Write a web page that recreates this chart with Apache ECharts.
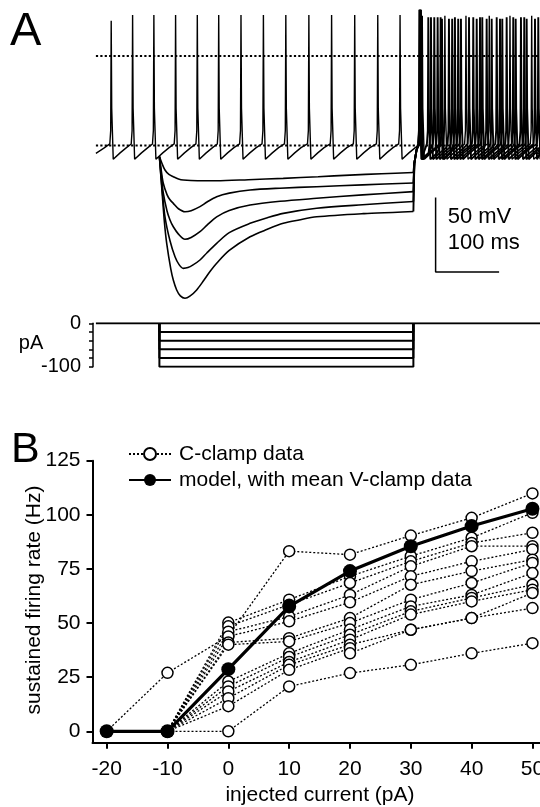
<!DOCTYPE html>
<html><head><meta charset="utf-8">
<script src="https://cdn.jsdelivr.net/npm/echarts@6/dist/echarts.min.js"></script>
<style>html,body{margin:0;padding:0;background:#fff}#c{width:540px;height:807px}</style>
</head><body><div id="c"></div>
<script>
// ---------------- Panel B data ----------------
const currents = [-20, -10, 0, 10, 20, 30, 40, 50];           // injected current (pA)
const xTickLabels = [-20, -10, 0, 10, 20, 30, 40, 50];
const yTickLabels = [0, 25, 50, 75, 100, 125];
const modelRate = [0, 0, 28.7, 57.7, 74, 85.5, 94.8, 102.8];   // model, with mean V-clamp data
// C-clamp cells (Hz) at currents -20..50 (null = not recorded)
const cell01 = [null, 0, 0, 20.7, 26.9, 30.7, 36, 40.7];
const cell02 = [0, 27, 44, 83.2, 81.6, 90.4, 98.6, 109.9];
const cell03 = [null, 0, 50.2, 60.8, 71.6, 80.9, 89.4, 100.9];
const cell04 = [null, 0, 48.5, 58.5, 68.5, 78.5, 87, 91.7];
const cell05 = [null, 0, 46, 53, 63, 76.2, 85.5, 85.5];
const cell06 = [null, 0, 43.8, 50.8, 59.6, 71.6, 78.5, 84];
const cell07 = [null, 0, 41, 43, 52.3, 67.7, 74, 79.3];
const cell08 = [null, 0, 40, 41.5, 50, 60.8, 68.5, 77.8];
const cell09 = [null, 0, 23, 36, 47, 57.7, 63, 73.1];
const cell10 = [null, 0, 20.7, 34.3, 44.6, 55.4, 61.6, 67.7];
const cell11 = [null, 0, 18.4, 32, 42.3, 53.9, 60, 65.4];
const cell12 = [null, 0, 15.3, 30.7, 40, 46.9, 52.3, 56.9];
const cell13 = [null, 0, 11.6, 28.4, 38.4, null, null, null];
const cell14 = [null, null, null, null, 36, 46.9, 52.3, 63.9];

// ---------------- Panel A data ----------------
const sweepEndMs = 700;
const stepOnMs = 100, stepOffMs = 500;
const stepAmps = [-20, -40, -60, -80, -100];                 // pA
const refLinesMv = [0, -60];                                 // dotted reference lines
// spike waveform (ms relative to peak, mV)
const spikeRise = [[-2.2, -59], [-0.8, -50]];
const spikeFall = [[0.8, -35], [3.2, -69.3], [6, -68.5], [14, -65], [24, -61.5]];
// 0 pA trace: spike times (ms) and peaks (mV)
const spikes0 = [24.1, 57.8, 91.3, 125.5, 159.7, 193.4, 228.5, 263.8, 299.1, 335.4, 371.2, 407.6, 443.9, 479, 514, 549.6, 582.8, 619.5, 652.1, 686.3];
const peaks0 = [23.7, 27.5, 27.5, 27.5, 27.5, 27.5, 27.5, 27.5, 27.5, 27.5, 27.5, 27.5, 27.5, 27.5, 27, 27, 27, 27, 27, 27];
// hyperpolarised responses during the step [ms, mV]
const hyp20 = [[100, -67.5], [104, -72], [108.8, -76.5], [115, -79.5], [121.9, -81], [130, -82.5], [137.6, -83.2], [160, -83.7], [190, -83.7], [240, -83], [295, -82.1], [350, -81], [400, -79.9], [450, -79], [500, -78.2]];
const hyp40 = [[100, -67.5], [103, -77], [106.1, -85.4], [112, -93], [116.7, -96.5], [121.9, -98.9], [130, -102.5], [140.3, -104.5], [150, -103.8], [163.9, -101.1], [175, -98], [190.2, -94.4], [210, -92], [242.8, -89.9], [290, -88.7], [347.7, -87.7], [420, -86.5], [500, -85.2]];
const hyp60 = [[100, -67.5], [103, -80], [106.1, -91.9], [112, -104], [116.7, -110], [121.9, -114.6], [130, -119.5], [140.3, -123], [150, -121.8], [163.9, -117.9], [175, -113.5], [190.2, -107.9], [210, -103.6], [242.8, -100], [290, -97.5], [347.7, -95.5], [420, -93.2], [500, -91]];
const hyp80 = [[100, -67.5], [104, -88], [108.8, -107.9], [116.7, -124], [124.6, -134.7], [131, -140], [137.6, -142.5], [145, -142], [153, -140.2], [163.9, -136.9], [175, -132], [190.2, -125.7], [210, -118.5], [242.8, -112.3], [270, -108.5], [295.1, -105.6], [347.7, -102.2], [420, -99.8], [500, -97.6]];
const hyp100 = [[100, -67.5], [104, -90], [108, -112], [111.5, -125.7], [118, -143], [122, -150.5], [127.2, -157], [133, -161], [140.3, -162.6], [148, -161.2], [158.7, -157], [170, -150.5], [180, -144.5], [190.2, -139.1], [210, -130.5], [242.8, -121.3], [270, -116.3], [295.1, -112.3], [320, -110], [347.7, -107.9], [420, -105.8], [500, -104.3]];
// rebound: rise after the step and spike times (ms)
const reboundRise = [[501.5, -72], [505, -63]];
const burst20 = [512, 542.9, 574.9, 608.5, 640, 674.6];
const burst40 = [511, 538.2, 570.6, 604.9, 636.4, 669.4];
const burst60 = [510.5, 532.9, 561.1, 594.3, 623.3, 657.3, 691.5];
const burst80 = [510, 527.7, 556, 587.6, 615.4, 646.9, 678.4];
const burst100 = [509.5, 523.5, 545, 565.4, 599.7, 631.2, 661.1, 696.7];
const burstPeaks = [31, 26, 25, 26, 25, 26, 25, 26];
// scale bar: 50 mV / 100 ms
const scaleBar = [[535, -95], [535, -145], [635, -145]];

// ---------------- helpers ----------------
function buildTrain(start, times, peaks, tEnd) {
  const pts = start.map(p => p.slice());
  for (let i = 0; i < times.length; i++) {
    const t = times[i];
    spikeRise.forEach(([dt, v]) => { if (t + dt > pts[pts.length - 1][0] + 0.3) pts.push([t + dt, v]); });
    pts.push([t, peaks[i]]);
    const next = i + 1 < times.length ? times[i + 1] : Infinity;
    spikeFall.forEach(([dt, v]) => { if (t + dt < next - 2.7 && t + dt <= tEnd) pts.push([t + dt, v]); });
  }
  if (pts[pts.length - 1][0] < tEnd) pts.push([tEnd, -65.5]);
  return pts;
}

const FONT = "'Liberation Sans', Arial, Helvetica, sans-serif";
const chart = echarts.init(document.getElementById('c'), null, { renderer: 'canvas', width: 540, height: 807 });

const series = [];
// Panel A: reference dotted lines
refLinesMv.forEach(v => series.push({
  type: 'line', xAxisIndex: 0, yAxisIndex: 0, data: [[0, v], [sweepEndMs, v]], symbol: 'none', silent: true,
  lineStyle: { color: '#000', width: 2, type: [2.2, 2.2] }, z: 1
}));
// Panel A: 0 pA spiking trace
series.push({
  type: 'line', xAxisIndex: 0, yAxisIndex: 0, symbol: 'none', silent: true,
  data: buildTrain([[0, -65.3], [12, -62]], spikes0, peaks0, sweepEndMs),
  lineStyle: { color: '#000', width: 1.4 }, z: 3
});
// Panel A: hyperpolarised traces + rebound bursts
const hyps = [hyp20, hyp40, hyp60, hyp80, hyp100];
const bursts = [burst20, burst40, burst60, burst80, burst100];
hyps.forEach((h, k) => {
  series.push({
    type: 'line', xAxisIndex: 0, yAxisIndex: 0, symbol: 'none', silent: true, data: h,
    smooth: 0.3, lineStyle: { color: '#000', width: 1.6 }, z: 3
  });
  const last = h[h.length - 1];
  series.push({
    type: 'line', xAxisIndex: 0, yAxisIndex: 0, symbol: 'none', silent: true,
    data: buildTrain([last].concat(reboundRise), bursts[k], burstPeaks, sweepEndMs),
    lineStyle: { color: '#000', width: 1.9 }, z: 3
  });
});
// scale bar
series.push({
  type: 'line', xAxisIndex: 0, yAxisIndex: 0, symbol: 'none', silent: true, data: scaleBar,
  lineStyle: { color: '#000', width: 1.5 }, z: 3
});
// Panel A: current steps
series.push({
  type: 'line', xAxisIndex: 1, yAxisIndex: 1, symbol: 'none', silent: true,
  data: [[0, 0], [sweepEndMs, 0]], lineStyle: { color: '#000', width: 2 }
});
stepAmps.forEach(a => series.push({
  type: 'line', xAxisIndex: 1, yAxisIndex: 1, symbol: 'none', silent: true,
  data: [[stepOnMs, 0], [stepOnMs, a], [stepOffMs, a], [stepOffMs, 0]], lineStyle: { color: '#000', width: 2 }
}));
// Panel B: C-clamp cells
[cell01, cell02, cell03, cell04, cell05, cell06, cell07, cell08, cell09, cell10, cell11, cell12, cell13, cell14].forEach(vals => series.push({
  type: 'line', name: 'C-clamp data', xAxisIndex: 2, yAxisIndex: 2,
  data: currents.map((c, i) => [c, vals[i]]).filter(p => p[1] !== null),
  symbol: 'circle', symbolSize: 11,
  itemStyle: { color: '#fff', borderColor: '#000', borderWidth: 1.5 },
  lineStyle: { color: '#000', width: 1.3, type: [2, 2] }, z: 3
}));
// Panel B: model
series.push({
  type: 'line', name: 'model, with mean V-clamp data', xAxisIndex: 2, yAxisIndex: 2,
  data: currents.map((c, i) => [c, modelRate[i]]),
  symbol: 'circle', symbolSize: 14, itemStyle: { color: '#000' },
  lineStyle: { color: '#000', width: 3.2 }, z: 6
});

const axisTxt = { color: '#000', fontSize: 21, fontFamily: FONT };
const option = {
  animation: false,
  backgroundColor: '#fff',
  grid: [
    { left: 95.9, top: 0, width: 444.1, height: 310, outerBoundsMode: 'none', containLabel: false },
    { left: 95.9, top: 323.3, width: 444.1, height: 43.4, outerBoundsMode: 'none', containLabel: false },
    { left: 92.5, top: 460.7, width: 447.5, height: 282, outerBoundsMode: 'none', containLabel: false }
  ],
  xAxis: [
    { gridIndex: 0, type: 'value', min: 0, max: 699.4, show: false },
    { gridIndex: 1, type: 'value', min: 0, max: 699.4, show: false },
    { gridIndex: 2, type: 'value', min: -22.33, max: 51.24, splitLine: { show: false },
      axisLine: { onZero: false, lineStyle: { color: '#000', width: 2 } },
      axisTick: { customValues: xTickLabels, length: 6, lineStyle: { color: '#000', width: 2 } },
      axisLabel: Object.assign({ customValues: xTickLabels, margin: 16, hideOverlap: false }, axisTxt) }
  ],
  yAxis: [
    { gridIndex: 0, type: 'value', min: -170.45, max: 37.6, show: false },
    { gridIndex: 1, type: 'value', min: -100, max: 0, offset: 2.9, splitLine: { show: false },
      axisLine: { show: true, onZero: false, lineStyle: { color: '#000', width: 1.5 } },
      axisTick: { customValues: [0, -20, -40, -60, -80, -100], length: 4, lineStyle: { color: '#000', width: 1.5 } },
      axisLabel: { customValues: [0, -100], margin: 12, color: '#000', fontSize: 20, fontFamily: FONT } },
    { gridIndex: 2, type: 'value', min: -5.27, max: 125, splitLine: { show: false },
      axisLine: { show: true, onZero: false, lineStyle: { color: '#000', width: 2 } },
      axisTick: { customValues: yTickLabels, length: 6, lineStyle: { color: '#000', width: 2 } },
      axisLabel: Object.assign({ customValues: yTickLabels, margin: 12 }, axisTxt) }
  ],
  legend: {
    orient: 'vertical', left: 123, top: 438, itemWidth: 42, itemHeight: 15, itemGap: 4,
    selectedMode: false, data: ['C-clamp data', 'model, with mean V-clamp data'],
    textStyle: { color: '#000', fontSize: 21, fontFamily: FONT, lineHeight: 22, padding: [0, 0, 0, 3] }
  },
  graphic: [
    { type: 'text', x: 10, y: 32, style: { text: 'A', fontSize: 47, fontFamily: FONT, fill: '#000', verticalAlign: 'middle' } },
    { type: 'text', x: 11, y: 450, style: { text: 'B', fontSize: 43, fontFamily: FONT, fill: '#000', verticalAlign: 'middle' } },
    { type: 'text', x: 447.7, y: 217, style: { text: '50 mV', fontSize: 22, fontFamily: FONT, fill: '#000', verticalAlign: 'middle' } },
    { type: 'text', x: 447.7, y: 243, style: { text: '100 ms', fontSize: 22, fontFamily: FONT, fill: '#000', verticalAlign: 'middle' } },
    { type: 'text', x: 31, y: 343.5, style: { text: 'pA', fontSize: 20, fontFamily: FONT, fill: '#000', align: 'center', verticalAlign: 'middle' } },
    { type: 'text', x: 320, y: 795, style: { text: 'injected current (pA)', fontSize: 21, fontFamily: FONT, fill: '#000', align: 'center', verticalAlign: 'middle' } },
    { type: 'text', x: 34, y: 600, rotation: Math.PI / 2, style: { text: 'sustained firing rate (Hz)', fontSize: 21, fontFamily: FONT, fill: '#000', align: 'center', verticalAlign: 'middle' } }
  ],
  series: series
};
chart.setOption(option);
</script>
</body></html>
